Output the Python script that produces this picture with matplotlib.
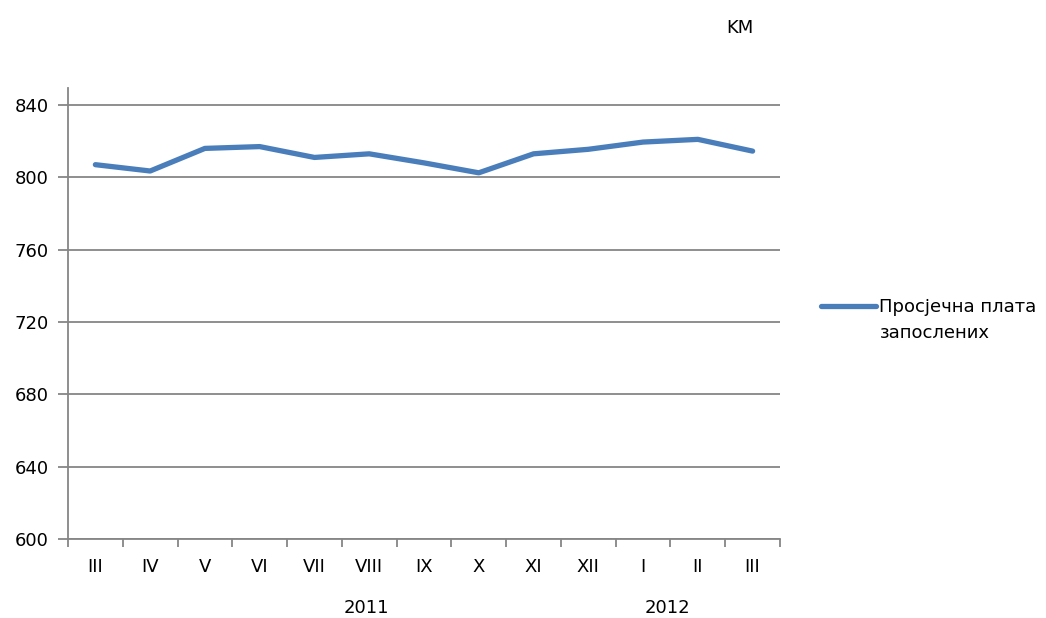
import matplotlib
matplotlib.use("Agg")
import matplotlib.pyplot as plt

months = ["III", "IV", "V", "VI", "VII", "VIII", "IX", "X", "XI", "XII", "I", "II", "III"]
wages = [807, 803.5, 816, 817, 811, 813, 808, 802.5, 813, 815.5, 819.5, 821, 814.5]
years = ["2011", "2012"]
year_pos = [4.95, 10.45]
yticks = [600, 640, 680, 720, 760, 800, 840]
series_name = ["Просјечна плата", "запослених"]

grey = "#868686"
blue = "#4a7ebb"
fs = 13

plt.rcParams["font.family"] = ["DejaVu Sans"]

fig = plt.figure(figsize=(10.46, 6.18), dpi=100)
# plot area runs a bit above the 840 gridline, as in the original
ax = fig.add_axes([68 / 1046, 1 - 539 / 618, (780 - 68) / 1046, (539 - 88) / 618])

x = list(range(len(months)))
line, = ax.plot(x, wages, color=blue, lw=3.8, solid_capstyle="round",
                solid_joinstyle="round", label=series_name[0], zorder=3)

ax.set_xlim(-0.5, len(months) - 0.5)
ax.set_ylim(600, 840 + 17 / (434 / 240))
ax.set_yticks(yticks)
ax.set_yticklabels([str(v) for v in yticks], fontsize=fs)
ax.yaxis.grid(True, color=grey, lw=1.3)

ax.set_xticks([i - 0.5 for i in range(len(months) + 1)])
ax.set_xticklabels([])
ax.set_xticks(x, minor=True)
ax.set_xticklabels(months, minor=True, fontsize=fs)
ax.tick_params(axis="x", which="major", length=6, color=grey, width=1.3)
ax.tick_params(axis="x", which="minor", length=0, pad=14)
ax.tick_params(axis="y", length=7, color=grey, width=1.3, pad=7)

for s in ["top", "right"]:
    ax.spines[s].set_visible(False)
for s in ["left", "bottom"]:
    ax.spines[s].set_color(grey)
    ax.spines[s].set_linewidth(1.3)

for yr, p in zip(years, year_pos):
    ax.text(p, -(608 - 539) / (539 - 88), yr, transform=ax.get_xaxis_transform(),
            ha="center", va="center", fontsize=fs)

fig.text(740 / 1046, 1 - 28 / 618, "KM", ha="center", va="center", fontsize=fs)

# legend: handle sits beside the first line, second line wraps below
fig.legend(handles=[line], loc="center left", bbox_to_anchor=(821 / 1046, 1 - 307 / 618),
           frameon=False, fontsize=fs, handlelength=3.05, handletextpad=0.17,
           borderaxespad=0, borderpad=0)
fig.text(880 / 1046, 1 - 333 / 618, series_name[1], ha="left", va="center", fontsize=fs)

fig.savefig("out.png", dpi=100)
